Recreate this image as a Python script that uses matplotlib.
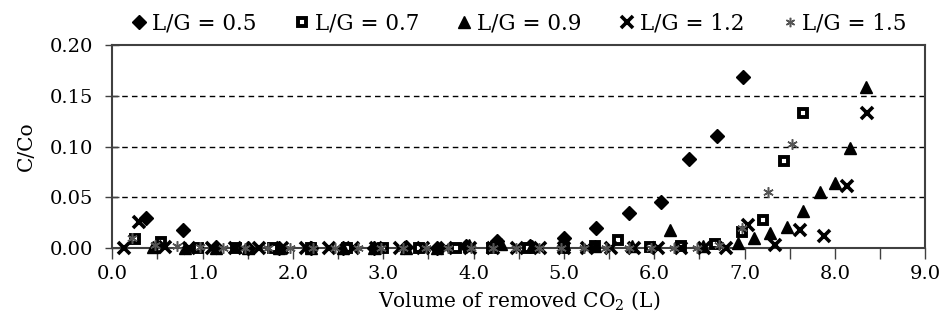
import matplotlib
matplotlib.use('Agg')
import matplotlib.pyplot as plt
import numpy as np

# the reference text is wide, DejaVu Serif matches its proportions best
plt.rcParams['font.family'] = ['DejaVu Serif']
plt.rcParams['mathtext.fontset'] = 'dejavuserif'

# L/G = 0.5
x05 = [0.37, 0.78, 1.15, 1.50, 1.85, 2.20, 2.55, 2.90, 3.25, 3.60, 3.92, 4.26, 4.62,
       5.00, 5.36, 5.72, 6.08, 6.39, 6.70, 6.98]
y05 = [0.030, 0.018, 0.001, 0.000, 0.000, 0.000, 0.000, 0.000, 0.001, 0.000, 0.002,
       0.007, 0.002, 0.010, 0.020, 0.035, 0.045, 0.088, 0.110, 0.169]

# L/G = 0.7
x07 = [0.25, 0.54, 0.95, 1.37, 1.78, 2.20, 2.60, 3.00, 3.40, 3.80, 4.20, 4.60, 5.00,
       5.35, 5.60, 5.95, 6.30, 6.67, 6.97, 7.20, 7.44, 7.65]
y07 = [0.009, 0.006, 0.000, 0.000, 0.000, 0.000, 0.000, 0.000, 0.000, 0.000, 0.000,
       0.000, 0.000, 0.002, 0.008, 0.001, 0.002, 0.004, 0.016, 0.028, 0.086, 0.133]

# L/G = 0.9
x09 = [0.45, 0.80, 1.15, 1.50, 1.85, 2.20, 2.55, 2.90, 3.25, 3.60, 3.95, 4.30, 4.65,
       5.00, 5.35, 5.75, 6.17, 6.54, 6.93, 7.10, 7.28, 7.47, 7.65, 7.84, 8.00, 8.17, 8.35]
y09 = [0.001, 0.000, 0.000, 0.000, 0.000, 0.000, 0.000, 0.000, 0.000, 0.000, 0.003,
       0.004, 0.002, 0.004, 0.002, 0.002, 0.018, 0.002, 0.005, 0.010, 0.015, 0.021,
       0.037, 0.055, 0.064, 0.099, 0.159]

# L/G = 1.2
x12 = [0.13, 0.30, 0.58, 0.85, 1.10, 1.36, 1.62, 1.88, 2.14, 2.40, 2.66, 2.92, 3.18,
       3.44, 3.70, 3.96, 4.22, 4.48, 4.74, 5.00, 5.26, 5.52, 5.78, 6.04, 6.30, 6.55,
       6.80, 7.04, 7.34, 7.62, 7.88, 8.14, 8.36]
y12 = [0.000, 0.026, 0.001, 0.000, 0.000, 0.000, 0.000, 0.000, 0.000, 0.000, 0.000,
       0.000, 0.000, 0.000, 0.000, 0.000, 0.000, 0.000, 0.000, 0.000, 0.000, 0.000,
       0.000, 0.000, 0.000, 0.000, 0.000, 0.023, 0.003, 0.018, 0.012, 0.061, 0.133]

# L/G = 1.5
x15 = [0.22, 0.47, 0.72, 0.97, 1.22, 1.47, 1.72, 1.97, 2.22, 2.47, 2.72, 2.97, 3.22,
       3.47, 3.72, 3.97, 4.22, 4.47, 4.72, 4.97, 5.22, 5.47, 5.72, 5.97, 6.22, 6.47,
       6.72, 6.97, 7.26, 7.53]
y15 = [0.010, 0.003, 0.002, 0.001, 0.000, 0.000, 0.000, 0.000, 0.000, 0.000, 0.000,
       0.000, 0.000, 0.000, 0.000, 0.000, 0.000, 0.000, 0.000, 0.000, 0.000, 0.000,
       0.000, 0.000, 0.000, 0.000, 0.003, 0.020, 0.055, 0.103]

fig = plt.figure(figsize=(9.44, 3.29), dpi=100)
ax = fig.add_axes([0.119, 0.246, 0.861, 0.617])

ax.plot(x05, y05, linestyle='none', marker='D', ms=7.5, color='black',
        label='L/G = 0.5', zorder=3, clip_on=False)
ax.plot(x07, y07, linestyle='none', marker='s', ms=5.8, mfc='white', mec='black',
        mew=2.8, label='L/G = 0.7', zorder=3, clip_on=False)
ax.plot(x09, y09, linestyle='none', marker='^', ms=9, color='black',
        label='L/G = 0.9', zorder=3, clip_on=False)
ax.plot(x12, y12, linestyle='none', marker='x', ms=9, mew=2.6, color='black',
        label='L/G = 1.2', zorder=3, clip_on=False)
ax.plot(x15, y15, linestyle='none', marker=(6, 2, 0), ms=7.5, mew=1.1,
        color='#555555', label='L/G = 1.5', zorder=4, clip_on=False)

ax.set_xlim(0, 9)
ax.set_ylim(0, 0.20)
ax.set_xticks(np.arange(0, 9.01, 1.0))
ax.set_xticks(np.arange(0, 9.01, 0.5), minor=True)
ax.set_xticklabels([f'{v:.1f}' for v in np.arange(0, 9.01, 1.0)])
ax.set_yticks([0, 0.05, 0.10, 0.15, 0.20])
ax.set_yticklabels(['0.00', '0.05', '0.10', '0.15', '0.20'])

ax.tick_params(axis='x', which='both', direction='out', length=8, width=1,
               color='#404040', labelsize=14, pad=4)
ax.tick_params(axis='y', direction='inout', length=10, width=1,
               color='#404040', labelsize=14, pad=9)

for y in [0.05, 0.10, 0.15]:
    ax.axhline(y, color='black', linestyle=(0, (4, 3)), linewidth=1, zorder=1)

for s in ax.spines.values():
    s.set_color('#404040')
    s.set_linewidth(1.5)

ax.set_xlabel('Volume of removed CO$_2$ (L)', fontsize=14.5, labelpad=5)
ax.set_ylabel('C/Co', fontsize=14.5, labelpad=10)

ax.legend(loc='center', bbox_to_anchor=(0.5, 1.108), ncol=5, frameon=False,
          fontsize=15.5, handlelength=0.8, handletextpad=0.2, columnspacing=1.7,
          borderpad=0, markerscale=0.9)

fig.savefig('out.png', dpi=100, facecolor='white')
